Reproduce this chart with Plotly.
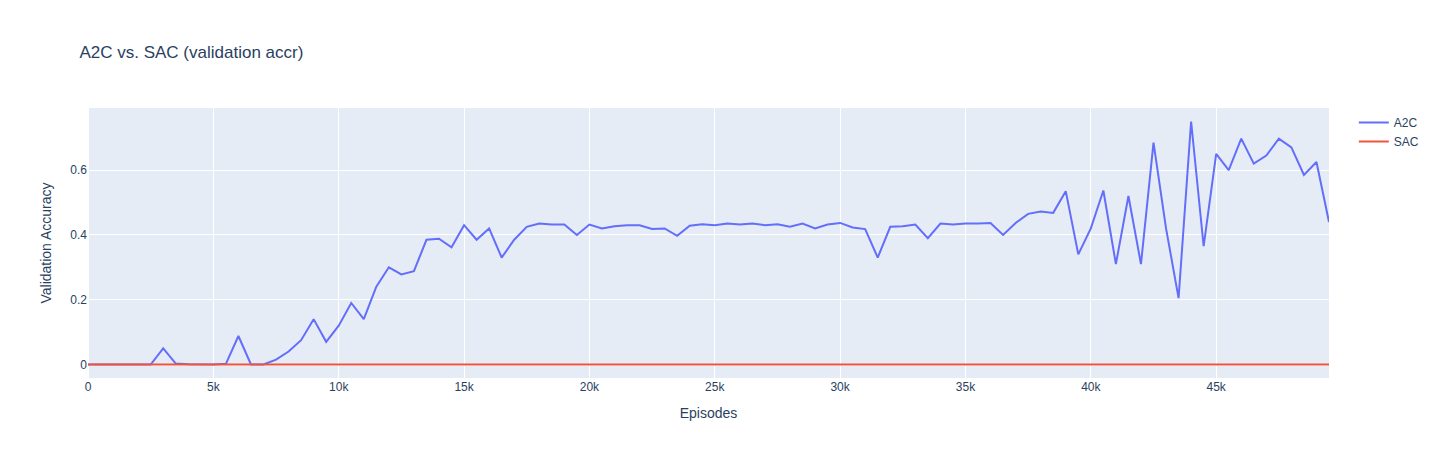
import plotly.graph_objects as go

episodes = list(range(0, 50000, 500))
a2c = [0, 0, 0, 0, 0, 0, 0.05, 0.003, 0.001, 0, 0, 0.002, 0.088, 0, 0, 0.015,
       0.04, 0.075, 0.14, 0.07, 0.12, 0.19, 0.14, 0.24, 0.30, 0.278, 0.288, 0.385,
       0.388, 0.362, 0.43, 0.385, 0.42, 0.33, 0.385, 0.425, 0.435, 0.432, 0.432,
       0.40, 0.432, 0.42, 0.427, 0.43, 0.43, 0.418, 0.42, 0.397, 0.428, 0.433,
       0.43, 0.435, 0.432, 0.435, 0.43, 0.433, 0.425, 0.435, 0.42, 0.432, 0.437,
       0.423, 0.418, 0.33, 0.425, 0.427, 0.432, 0.39, 0.435, 0.432, 0.435, 0.435,
       0.437, 0.40, 0.437, 0.465, 0.472, 0.468, 0.535, 0.34, 0.42, 0.537, 0.31,
       0.52, 0.31, 0.685, 0.42, 0.205, 0.75, 0.365, 0.65, 0.60, 0.697, 0.62,
       0.645, 0.697, 0.67, 0.585, 0.625, 0.44]
sac = [0] * len(episodes)

fig = go.Figure()
fig.add_trace(go.Scatter(x=episodes, y=a2c, mode="lines", name="A2C"))
fig.add_trace(go.Scatter(x=episodes, y=sac, mode="lines", name="SAC"))
fig.update_layout(
    title="A2C vs. SAC (validation accr)",
    xaxis_title="Episodes",
    yaxis_title="Validation Accuracy",
    font=dict(family="Liberation Sans, Arial, sans-serif"),
    margin=dict(l=80, r=108, t=100, b=80),
    width=1429,
    height=450,
)
fig.write_html("out.html")
